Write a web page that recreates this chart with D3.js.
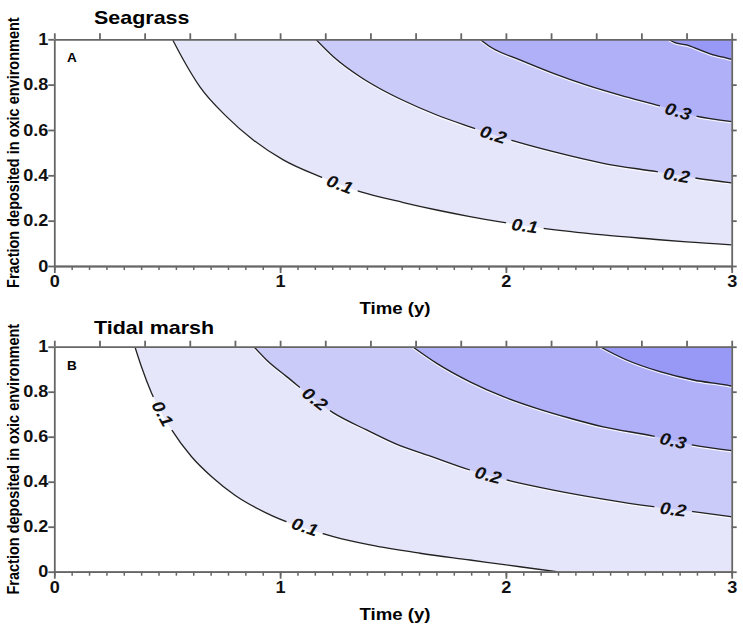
<!DOCTYPE html>
<html>
<head>
<meta charset="utf-8">
<script src="https://cdn.jsdelivr.net/npm/d3@7"></script>
<style>
  body { margin: 0; background: #fff; }
  svg { font-family: "Liberation Sans", Arial, sans-serif; }
  .axis path, .axis line { stroke: #666; }
  .axis text { fill: #111; font-weight: bold; font-size: 16px; }
</style>
</head>
<body>
<svg id="chart" width="743" height="630"></svg>
<script>
// contour levels and band colours (band i lies above contour i)
let levels = [0.1, 0.2, 0.3, 0.4];
let bandColors = ["#e6e6fb", "#cbcbf9", "#b0b0f8", "#9898f7"];

let timeTicks = [0, 1, 2, 3];
let fracTicks = [0, 0.2, 0.4, 0.6, 0.8, 1];

// Seagrass contours, [time (y), fraction]
let sg01 = [[0.523,1],[0.564,0.923],[0.645,0.79],[0.763,0.659],[0.881,0.556],[1.014,0.468],[1.177,0.394],[1.354,0.328],[1.546,0.28],[1.694,0.247],[1.841,0.218],[1.989,0.192],[2.166,0.166],[2.431,0.137],[2.653,0.118],[2.80,0.106],[3.0,0.093]];
let sg02 = [[1.158,1],[1.236,0.923],[1.354,0.835],[1.443,0.782],[1.546,0.73],[1.694,0.666],[1.841,0.614],[2.019,0.556],[2.21,0.504],[2.431,0.453],[2.668,0.416],[2.845,0.387],[3.0,0.367]];
let sg03 = [[1.885,1],[1.93,0.967],[2.062,0.909],[2.21,0.85],[2.358,0.798],[2.505,0.754],[2.683,0.706],[2.837,0.662],[3.0,0.637]];
let sg04 = [[2.72,1],[2.749,0.985],[2.80,0.975],[2.859,0.953],[2.918,0.931],[2.963,0.921],[3.0,0.911]];

// Tidal marsh contours
let tm01 = [[0.357,1],[0.386,0.911],[0.431,0.793],[0.52,0.63],[0.608,0.511],[0.697,0.422],[0.80,0.34],[0.94,0.26],[1.236,0.156],[1.398,0.119],[1.62,0.082],[1.841,0.052],[2.062,0.022],[2.225,0]];
let tm02 = [[0.884,1],[0.94,0.941],[1.029,0.867],[1.236,0.706],[1.383,0.63],[1.531,0.56],[1.656,0.517],[1.841,0.452],[2.019,0.404],[2.21,0.363],[2.431,0.323],[2.653,0.289],[2.83,0.267],[3.0,0.244]];
let tm03 = [[1.587,1],[1.694,0.926],[1.841,0.844],[1.989,0.778],[2.136,0.726],[2.284,0.682],[2.431,0.644],[2.653,0.603],[2.83,0.563],[3.0,0.538]];
let tm04 = [[2.417,1],[2.535,0.941],[2.683,0.889],[2.83,0.852],[2.99,0.827],[3.0,0.825]];

// inline labels: which contour, and at what time
let sgLabels = [[0, 1.265], [0, 2.084], [1, 1.944], [1, 2.756], [2, 2.763]];
let tmLabels = [[0, 0.48], [0, 1.11], [1, 1.155], [1, 1.922], [1, 2.741], [2, 2.741]];

let svg = d3.select("#chart");
let left = 54.3, right = 731.7;
let stretch = 1.13;   // the type in the original is a bit wide

let x = d3.scaleLinear().domain([0, 3]).range([left, right]);

function wideText(sel, px, py, size) {
    return sel.append("text")
        .attr("transform", "translate(" + px + "," + py + ") scale(" + stretch + ",1)")
        .attr("font-size", size + "px")
        .attr("font-weight", "bold");
}

function drawPanel(id, top, bottom, lines, labels, title, letter, titleY) {
    let y = d3.scaleLinear().domain([0, 1]).range([bottom, top]);
    let g = svg.append("g");

    g.append("clipPath").attr("id", "clip" + id)
        .append("rect")
        .attr("x", left).attr("y", top)
        .attr("width", right - left).attr("height", bottom - top);

    let plot = g.append("g").attr("clip-path", "url(#clip" + id + ")");

    // filled bands, each area runs from the contour up to fraction = 1
    let area = d3.area()
        .x(d => x(d[0]))
        .y0(y(1))
        .y1(d => y(d[1]))
        .curve(d3.curveMonotoneX);

    lines.forEach(function(pts, i) {
        let last = pts[pts.length - 1];
        let fillPts = last[0] < 3 ? pts.concat([[3, last[1]]]) : pts;
        plot.append("path")
            .attr("d", area(fillPts))
            .attr("fill", bandColors[i]);
    });

    // label positions along the contours
    function pointAt(pts, t) {
        for (let k = 0; k < pts.length - 1; k++) {
            let a = pts[k], b = pts[k + 1];
            if (t >= a[0] && t <= b[0]) {
                let u = (t - a[0]) / (b[0] - a[0]);
                let px = x(a[0]) + u * (x(b[0]) - x(a[0]));
                let py = y(a[1]) + u * (y(b[1]) - y(a[1]));
                let ang = Math.atan2(y(b[1]) - y(a[1]), x(b[0]) - x(a[0])) * 180 / Math.PI;
                return [px, py, ang];
            }
        }
        return [x(t), y(0), 0];
    }
    let labelPos = labels.map(l => pointAt(lines[l[0]], l[1]).concat([levels[l[0]]]));

    // mask to cut the contour lines under the labels
    let mask = g.append("mask").attr("id", "mask" + id);
    mask.append("rect")
        .attr("x", 0).attr("y", 0).attr("width", 743).attr("height", 630)
        .attr("fill", "white");
    mask.selectAll(".gap")
        .data(labelPos)
        .enter().append("rect")
        .attr("x", -19).attr("y", -9)
        .attr("width", 38).attr("height", 18)
        .attr("fill", "black")
        .attr("transform", d => "translate(" + d[0] + "," + d[1] + ") rotate(" + d[2] + ")");

    let line = d3.line()
        .x(d => x(d[0]))
        .y(d => y(d[1]))
        .curve(d3.curveMonotoneX);

    let lineG = plot.append("g").attr("mask", "url(#mask" + id + ")");
    lines.forEach(function(pts) {
        lineG.append("path")
            .attr("d", line(pts))
            .attr("fill", "none")
            .attr("stroke", "#fff")
            .attr("stroke-opacity", 0.85)
            .attr("stroke-width", 1.2)
            .attr("transform", "translate(0,1.3)");
        lineG.append("path")
            .attr("d", line(pts))
            .attr("fill", "none")
            .attr("stroke", "#222")
            .attr("stroke-width", 1.3);
    });

    plot.selectAll(".clabel")
        .data(labelPos)
        .enter().append("text")
        .attr("class", "clabel")
        .attr("transform", d => "translate(" + d[0] + "," + d[1] + ") rotate(" + d[2] + ") scale(" + stretch + ",1)")
        .attr("text-anchor", "middle")
        .attr("dy", "0.36em")
        .attr("font-size", "17px")
        .attr("font-weight", "bold")
        .attr("font-style", "italic")
        .attr("fill", "#111")
        .text(d => d3.format(".1f")(d[3]));

    // axes
    g.append("g").attr("class", "axis")
        .attr("transform", "translate(0," + top + ")")
        .call(d3.axisTop(x).tickValues(d3.range(0, 16).map(i => i * 0.2)).tickSize(6).tickSizeOuter(0).tickFormat(""))
        .selectAll("path, line").attr("stroke-width", 1.8);

    g.append("g").attr("class", "axis")
        .attr("transform", "translate(" + right + ",0)")
        .call(d3.axisRight(y).tickValues(fracTicks).tickSize(5).tickSizeOuter(0).tickFormat(""))
        .selectAll("path, line").attr("stroke-width", 1.8);

    // minor ticks on the time axis
    g.append("g").attr("class", "axis")
        .attr("transform", "translate(0," + bottom + ")")
        .call(d3.axisBottom(x).tickValues(d3.range(0, 40).map(i => i / 13)).tickSize(4).tickSizeOuter(0).tickFormat(""))
        .selectAll("path, line").attr("stroke-width", 1.5);

    let xAx = g.append("g").attr("class", "axis")
        .attr("transform", "translate(0," + bottom + ")")
        .call(d3.axisBottom(x).tickValues(timeTicks).tickSize(7).tickPadding(3).tickSizeOuter(0).tickFormat(d => d));
    xAx.selectAll("path, line").attr("stroke-width", 1.8);
    xAx.selectAll("text").attr("font-size", "17px").attr("transform", "scale(" + stretch + ",1)");

    let yAx = g.append("g").attr("class", "axis")
        .attr("transform", "translate(" + left + ",0)")
        .call(d3.axisLeft(y).tickValues(fracTicks).tickSize(6).tickPadding(1).tickSizeOuter(0).tickFormat(d => d));
    yAx.selectAll("path, line").attr("stroke-width", 1.8);
    yAx.selectAll("text").attr("x", 0)
        .attr("transform", "translate(-6,0) scale(" + stretch + ",1)");

    // titles
    wideText(g, 94, titleY, 19).text(title);
    wideText(g, 67, top + 23, 12).text(letter);
    wideText(g, 395, bottom + 48, 16.5)
        .attr("text-anchor", "middle")
        .text("Time (y)");

    g.append("text")
        .attr("transform", "translate(18.5," + (top + bottom) / 2 + ") rotate(-90) scale(1," + stretch + ")")
        .attr("text-anchor", "middle")
        .attr("font-size", "14.5px").attr("font-weight", "bold")
        .text("Fraction deposited in oxic environment");
}

drawPanel("A", 39.3, 266, [sg01, sg02, sg03, sg04], sgLabels, "Seagrass", "A", 24);
drawPanel("B", 346.7, 571.7, [tm01, tm02, tm03, tm04], tmLabels, "Tidal marsh", "B", 334);
</script>
</body>
</html>
